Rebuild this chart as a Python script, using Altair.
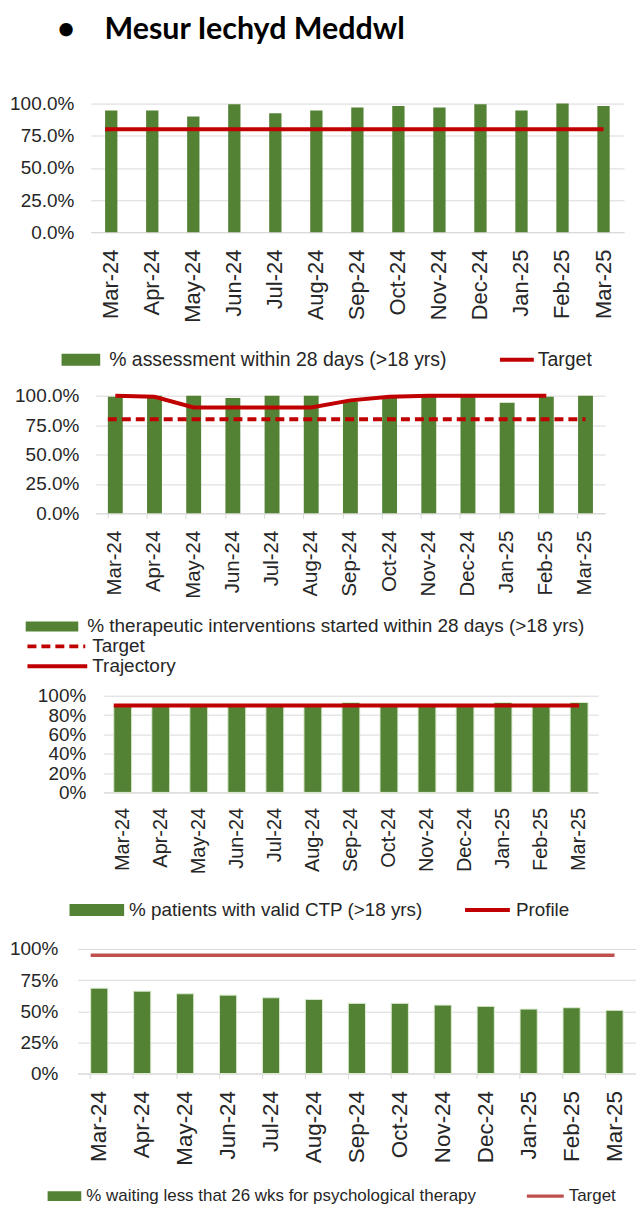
import altair as alt
import pandas as pd

# ---------------- data ----------------
months = ["Mar-24", "Apr-24", "May-24", "Jun-24", "Jul-24", "Aug-24", "Sep-24",
          "Oct-24", "Nov-24", "Dec-24", "Jan-25", "Feb-25", "Mar-25"]

page_title = "Mesur Iechyd Meddwl"

assessment_name = "% assessment within 28 days (>18 yrs)"
assessment_pct = [94.6, 94.6, 89.9, 99.5, 92.5, 94.6, 96.9, 98.2, 96.9, 99.5, 94.7, 100.0, 98.2]
assessment_target = 80

therapy_name = "% therapeutic interventions started within 28 days (>18 yrs)"
therapy_pct = [99.0, 100.0, 100.0, 98.0, 100.0, 100.0, 95.0, 98.0, 100.0, 100.0, 94.0, 99.0, 100.0]
therapy_target = 80
trajectory_months = ["Mar-24", "Apr-24", "May-24", "Jun-24", "Jul-24", "Aug-24", "Sep-24",
                     "Oct-24", "Nov-24", "Dec-24", "Jan-25", "Feb-25"]
trajectory_pct = [100.0, 99.0, 90.0, 90.0, 90.0, 90.0, 96.0, 99.0, 100.0, 100.0, 100.0, 100.0]

ctp_name = "% patients with valid CTP (>18 yrs)"
ctp_pct = [89.0, 89.0, 89.0, 89.0, 89.0, 89.0, 93.0, 89.0, 89.0, 89.0, 93.0, 89.0, 93.0]
ctp_profile = 90

psych_name = "% waiting less that 26 wks for psychological therapy"
psych_pct = [68.5, 66.1, 64.0, 62.9, 60.8, 59.5, 56.3, 56.3, 54.9, 53.9, 51.7, 52.8, 50.7]
psych_target = 95

# ---------------- style ----------------
GREEN = "#548235"
RED = "#C00000"
RED2 = "#C0504D"
GRID = "#D9D9D9"
TXT = "#262626"
FONT = "Liberation Sans"
YSCALE = alt.Scale(domain=[0, 1], nice=False, zero=True)


def bars_df(name, vals):
    return pd.DataFrame({"month": months, "value": [v / 100 for v in vals], "series": name})


def ref_df(name, val):
    return pd.DataFrame({"value": [val / 100], "series": [name]})


def xscale(p):
    return alt.Scale(type="band", domain=months, paddingInner=p, paddingOuter=p / 2)


def label_axis(size, pad=17):
    return alt.Axis(title=None, labelAngle=270, labelAlign="right", labelBaseline="middle",
                    labelFont=FONT, labelFontSize=size, labelColor=TXT, labelPadding=pad,
                    ticks=False, tickSize=0, domain=True, domainColor=GRID, domainWidth=1,
                    grid=False, labelOverlap=False)


TICK_AXIS = alt.Axis(title=None, orient="bottom", labels=False, domain=False, grid=False,
                     ticks=True, tickSize=5, tickColor=GRID, tickWidth=1, bandPosition=0)


def y_axis(vals, fmt, pad):
    return alt.Axis(title=None, values=vals, format=fmt, labelFont=FONT, labelFontSize=19,
                    labelColor=TXT, labelPadding=pad, ticks=False, tickSize=0, domain=False,
                    grid=True, gridColor=GRID, gridWidth=1)


def legend_fill(x, y, w, h, fs, off, clip):
    r = h / w
    return alt.Legend(orient="none", legendX=x, legendY=y, direction="horizontal", title=None,
                      symbolType=f"M-1,-{r:.3f}H1V{r:.3f}H-1Z", symbolSize=w * w,
                      symbolStrokeWidth=0, symbolOpacity=1, labelFont=FONT, labelFontSize=fs,
                      labelColor=TXT, labelOffset=off, labelLimit=800, clipHeight=clip,
                      padding=0)


def legend_stroke(x, y, w, fs, off, clip, sw=4, dash=None):
    kw = dict(orient="none", legendX=x, legendY=y, direction="horizontal", title=None,
              symbolType="stroke", symbolSize=w * w, symbolStrokeWidth=sw,
              labelFont=FONT, labelFontSize=fs, labelColor=TXT, labelOffset=off,
              labelLimit=800, clipHeight=clip, padding=0)
    if dash:
        kw["symbolDash"] = dash
    return alt.Legend(**kw)


def spacer(w, h):
    return alt.Chart(pd.DataFrame({"gap": []})).mark_point(opacity=0).properties(
        width=w, height=h)


def ref_rule(df, p, legend, color, sw, dash=None):
    mk = dict(strokeWidth=sw)
    if dash:
        mk["strokeDash"] = dash
    return alt.Chart(df).mark_rule(**mk).encode(
        x=alt.XDatum(months[0], type="nominal", bandPosition=0, scale=xscale(p), axis=None),
        x2=alt.X2Datum(months[-1], bandPosition=0.5),
        y=alt.Y("value:Q", scale=YSCALE, axis=None),
        stroke=alt.Stroke("series:N", scale=alt.Scale(range=[color]), legend=legend),
    )


# ---------------- panel 1 ----------------
P1 = 0.70
bars1 = alt.Chart(bars_df(assessment_name, assessment_pct)).mark_bar().encode(
    x=alt.X("month:N", scale=xscale(P1), axis=label_axis(22)),
    y=alt.Y("value:Q", scale=YSCALE, axis=y_axis([0, 0.25, 0.5, 0.75, 1.0], ".1%", 17)),
    fill=alt.Fill("series:N", scale=alt.Scale(range=[GREEN]),
                  legend=legend_fill(-14.5, 247, 39, 12, 19.5, 9, 20)),
)
target1 = ref_rule(ref_df("Target", assessment_target), P1,
                   legend_stroke(423.5, 247, 34, 19.5, 2, 20), RED, 4)
chart1 = alt.layer(bars1, target1).resolve_axis(x="independent", y="independent").properties(
    width=535, height=129)

# ---------------- panel 2 ----------------
P2 = 0.62
df2 = bars_df(therapy_name, therapy_pct)
bars2 = alt.Chart(df2).mark_bar().encode(
    x=alt.X("month:N", scale=xscale(P2), axis=label_axis(20.5)),
    y=alt.Y("value:Q", scale=YSCALE, axis=y_axis([0, 0.25, 0.5, 0.75, 1.0], ".1%", 17)),
    fill=alt.Fill("series:N", scale=alt.Scale(range=[GREEN]),
                  legend=legend_fill(-50.5, 221.5, 53, 10, 19, 9, 20)),
)
ticks2 = alt.Chart(df2).mark_bar(opacity=0).encode(
    x=alt.X("month:N", scale=xscale(P2), axis=TICK_AXIS),
    y=alt.Y("value:Q", scale=YSCALE, axis=None),
)
target2 = ref_rule(ref_df("Target", therapy_target), P2,
                   legend_stroke(-50.5, 241.5, 58, 19, 5, 20, dash=[9, 5]), RED, 4,
                   dash=[9, 5])
traj_df = pd.DataFrame({"month": trajectory_months,
                        "value": [v / 100 for v in trajectory_pct],
                        "series": "Trajectory"})
traj2 = alt.Chart(traj_df).mark_line(strokeWidth=4).encode(
    x=alt.X("month:N", scale=xscale(P2), axis=None),
    y=alt.Y("value:Q", scale=YSCALE, axis=None),
    color=alt.Color("series:N", scale=alt.Scale(range=[RED]),
                    legend=legend_stroke(-50.5, 261.5, 60, 19, 3, 20)),
)
chart2 = alt.layer(bars2, ticks2, traj2, target2).resolve_axis(
    x="independent", y="independent").properties(width=511, height=118)

# ---------------- panel 3 ----------------
P3 = 0.53
bars3 = alt.Chart(bars_df(ctp_name, ctp_pct)).mark_bar(stroke="#DDEBD3", strokeWidth=1).encode(
    x=alt.X("month:N", scale=xscale(P3), axis=label_axis(20, 15)),
    y=alt.Y("value:Q", scale=YSCALE, axis=y_axis([0, 0.2, 0.4, 0.6, 0.8, 1.0], ".0%", 18)),
    fill=alt.Fill("series:N", scale=alt.Scale(range=[GREEN]),
                  legend=legend_fill(-6.5, 205.5, 55, 12, 18.9, 5, 19)),
)
profile3 = ref_rule(ref_df("Profile", ctp_profile), P3,
                    legend_stroke(388.5, 205.5, 45, 18.9, 4, 19), RED, 4)
chart3 = alt.layer(bars3, profile3).resolve_axis(x="independent", y="independent").properties(
    width=496, height=97)

# ---------------- panel 4 ----------------
P4 = 0.60
df4 = bars_df(psych_name, psych_pct)
bars4 = alt.Chart(df4).mark_bar(stroke="#DDEBD3", strokeWidth=1).encode(
    x=alt.X("month:N", scale=xscale(P4), axis=label_axis(22.5)),
    y=alt.Y("value:Q", scale=YSCALE, axis=y_axis([0, 0.25, 0.5, 0.75, 1.0], ".0%", 20)),
    fill=alt.Fill("series:N", scale=alt.Scale(range=[GREEN]),
                  legend=legend_fill(-28.5, 239.5, 34, 10, 17, 5, 17)),
)
ticks4 = alt.Chart(df4).mark_bar(opacity=0).encode(
    x=alt.X("month:N", scale=xscale(P4), axis=TICK_AXIS),
    y=alt.Y("value:Q", scale=YSCALE, axis=None),
)
target4 = ref_rule(ref_df("Target", psych_target), P4,
                   legend_stroke(450.5, 239.5, 37, 17, 3, 17, sw=3.5), RED2, 3.5)
chart4 = alt.layer(bars4, ticks4, target4).resolve_axis(
    x="independent", y="independent").properties(width=560, height=125)

# ---------------- page layout ----------------
# spacer widths shift each panel's plot area; spacer heights set the row pitch
rows = [
    alt.hconcat(spacer(15, 284), chart1, spacing=0, bounds="flush"),
    alt.hconcat(spacer(20, 292), chart2, spacing=0, bounds="flush"),
    alt.hconcat(spacer(28, 245), chart3, spacing=0, bounds="flush"),
    alt.hconcat(spacer(2, 125), chart4, spacing=0, bounds="flush"),
]

chart = alt.vconcat(
    *rows, spacing=0,
    title=alt.TitleParams(
        text="\u2022\u00a0\u00a0\u00a0\u00a0" + page_title,
        font="Lato", fontSize=30.5, fontWeight="bold", color="#000000",
        anchor="start", dx=48, offset=49),
).properties(
    padding={"left": 1, "top": 5, "right": 0, "bottom": 0},
).configure(background="white").configure_view(stroke=None).resolve_scale(
    fill="independent", color="independent", stroke="independent",
    x="independent", y="independent")

chart.save("out.html", embed_options={"renderer": "svg", "actions": False})
